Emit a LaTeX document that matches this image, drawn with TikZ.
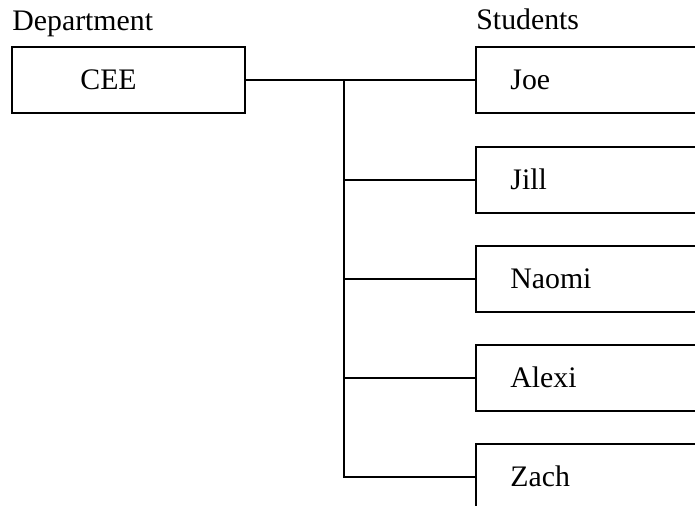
\documentclass[tikz,border=0pt]{standalone}
\usepackage{fontspec}
\setmainfont{Liberation Serif}
\begin{document}
\begin{tikzpicture}[x=0.5pt,y=-0.5pt,
  box/.style={draw,line width=0.7pt,rectangle,inner sep=0pt,minimum height=33pt},
  depbox/.style={box,minimum width=116.5pt},
  stubox/.style={box,minimum width=125pt},
  lbl/.style={anchor=base west,inner sep=0pt,font=\fontsize{14.9}{18}\selectfont},
  conn/.style={line width=0.7pt}]
\path[use as bounding box] (0,0) rectangle (695,506);
\clip (0,0) rectangle (695,506);
\node[lbl] (dep) at (12,31) {Department};
\node[lbl] (stu) at (476,30) {Students};
\node[depbox] (cee) at (128.5,80) {};
\node[lbl] (ceet) at (80,90) {CEE};
\node[stubox] (joe) at (601,80) {};
\node[stubox] (jill) at (601,180) {};
\node[stubox] (naomi) at (601,279) {};
\node[stubox] (alexi) at (601,378) {};
\node[stubox] (zach) at (601,477) {};
\node[lbl] (joet) at (510,90) {Joe};
\node[lbl] (jillt) at (510,190) {Jill};
\node[lbl] (naomit) at (510,289) {Naomi};
\node[lbl] (alexit) at (510,388) {Alexi};
\node[lbl] (zacht) at (510,487) {Zach};
\coordinate (t0) at (344,80);
\draw[conn] (cee.east) -- (joe.west);
\draw[conn] (t0) |- (zach.west);
\draw[conn] (jill.west -| t0) -- (jill.west);
\draw[conn] (naomi.west -| t0) -- (naomi.west);
\draw[conn] (alexi.west -| t0) -- (alexi.west);
\end{tikzpicture}
\end{document}
